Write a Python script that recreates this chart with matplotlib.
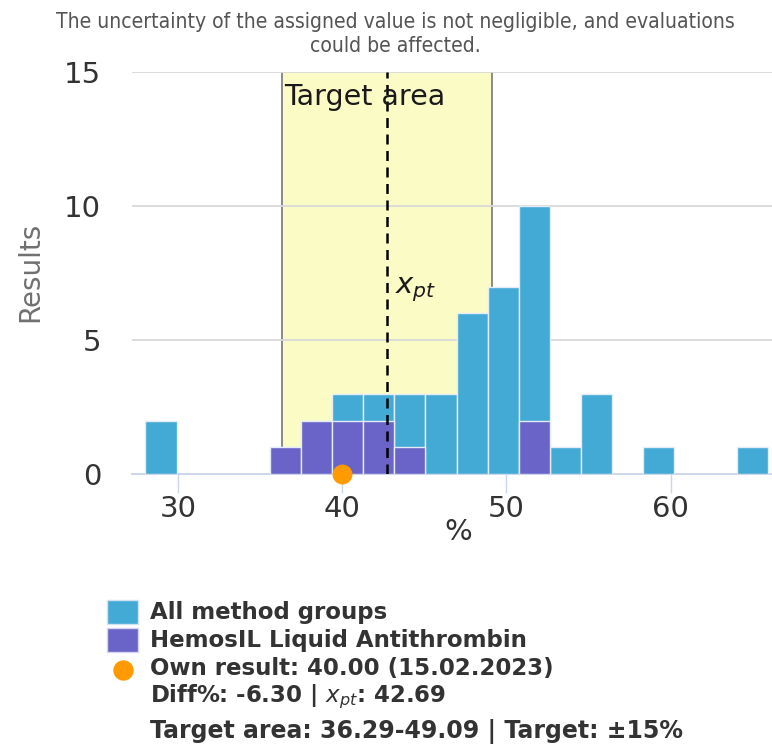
import matplotlib
matplotlib.use("Agg")
import matplotlib.pyplot as plt
from matplotlib.patches import Rectangle

# Histogram bins (left edges, plus the final right edge) and counts
bin_edges = [28.00, 29.90, 31.79, 33.69, 35.58, 37.48, 39.38, 41.27, 43.17, 45.06,
             46.96, 48.86, 50.75, 52.65, 54.54, 56.44, 58.34, 60.23, 62.13, 64.02, 65.92]
all_counts = [2, 0, 0, 0, 1, 2, 3, 3, 3, 3, 6, 7, 10, 1, 3, 0, 1, 0, 0, 1]
group_counts = [0, 0, 0, 0, 1, 2, 2, 2, 1, 0, 0, 0, 2, 0, 0, 0, 0, 0, 0, 0]

own_result = 40.00
x_pt = 42.69
target_low, target_high = 36.29, 49.09
diff_pct = -6.30
target_pct = 15

x_ticks = [30, 40, 50, 60]
y_ticks = [0, 5, 10, 15]

BLUE = "#43a9d5"
PURPLE = "#6a64c8"
ORANGE = "#ff9a00"

W, H = 772, 750
fig = plt.figure(figsize=(W / 100, H / 100), dpi=100)
fig.patch.set_facecolor("white")


def fx(x):
    return x / W


def fy(y):
    return 1 - y / H


ax_left, ax_right, ax_top, ax_bottom = 131.7, 772, 72, 474.3
ax = fig.add_axes([fx(ax_left), fy(ax_bottom), (ax_right - ax_left) / W, (ax_bottom - ax_top) / H])
ax.set_xlim(27.16, 66.18)
ax.set_ylim(0, 15)

# target band
ax.axvspan(target_low, target_high, ymin=0, ymax=1, facecolor="#fbfbc6", edgecolor="none", zorder=0.5)
for xv in (target_low, target_high):
    ax.axvline(xv, color="#8a8a8a", lw=1.4, zorder=0.8)

# horizontal grid
for yv in y_ticks[1:]:
    ax.axhline(yv, color="#d9d9d9", lw=1.3, zorder=1)

# histogram bars: all groups, then the method group overlaid
lefts = bin_edges[:-1]
widths = [b - a for a, b in zip(bin_edges[:-1], bin_edges[1:])]
for l, w, c in zip(lefts, widths, all_counts):
    if c > 0:
        ax.bar(l, c, width=w, align="edge", color=BLUE, edgecolor="#e4edf7", lw=1.0, zorder=2)
for l, w, c in zip(lefts, widths, group_counts):
    if c > 0:
        ax.bar(l, c, width=w, align="edge", color=PURPLE, edgecolor="#e4edf7", lw=1.0, zorder=2.1)

# assigned value
ax.axvline(x_pt, color="black", lw=1.8, ls=(0, (4, 2.6)), zorder=3)

ax.annotate("Target area", xy=(target_low, 15), xytext=(2.5, -33), textcoords="offset pixels",
            ha="left", va="baseline", fontsize=20.5, color="#1a1a1a", zorder=4)
ax.annotate(r"$x_{pt}$", xy=(x_pt, 6.76), xytext=(8, 0), textcoords="offset pixels",
            ha="left", va="baseline", fontsize=21, color="#1a1a1a", zorder=4)

# own result marker
ax.scatter([own_result], [0], s=205, color=ORANGE, zorder=5, clip_on=False, linewidths=0)

# axes styling
for s in ("top", "right", "left"):
    ax.spines[s].set_visible(False)
ax.spines["bottom"].set_color("#ccd6eb")
ax.spines["bottom"].set_linewidth(1.4)
ax.spines["bottom"].set_zorder(1.5)
ax.set_xticks(x_ticks)
ax.set_yticks(y_ticks)
ax.tick_params(axis="x", length=13.5, width=1.0, color="#ccd6eb", pad=1.5,
               labelsize=21, labelcolor="#333333")
ax.tick_params(axis="y", length=0, pad=22, labelsize=21, labelcolor="#333333")
ax.set_facecolor("white")

fig.text(fx(458), fy(532), "%", ha="center", va="center", fontsize=21, color="#333333")
fig.text(fx(30), fy(272), "Results", ha="center", va="center", rotation=90,
         fontsize=20, color="#707070")

# header note
note_kw = dict(ha="center", va="baseline", fontsize=15.1, color="#555555",
               family="DejaVu Sans", fontstretch="condensed")
fig.text(fx(395), fy(27.7), "The uncertainty of the assigned value is not negligible, and evaluations", **note_kw)
fig.text(fx(395), fy(52.5), "could be affected.", **note_kw)

# legend
fig.add_artist(Rectangle((fx(107), fy(624)), 31 / W, 24 / H, transform=fig.transFigure,
                         facecolor=BLUE, edgecolor="#cfe3f3", lw=1.0))
fig.add_artist(Rectangle((fx(107), fy(652)), 31 / W, 24 / H, transform=fig.transFigure,
                         facecolor=PURPLE, edgecolor="#d6d4f0", lw=1.0))
ax_leg = fig.add_axes([0, 0, 1, 1], facecolor="none")
ax_leg.set_xlim(0, W)
ax_leg.set_ylim(H, 0)
ax_leg.axis("off")
ax_leg.scatter([123], [670], s=215, color=ORANGE, linewidths=0)

leg_kw = dict(ha="left", va="baseline", fontsize=16.5, fontweight="bold", color="#333333")
fig.text(fx(150), fy(619), "All method groups", **leg_kw)
fig.text(fx(150), fy(646.7), "HemosIL Liquid Antithrombin", **leg_kw)
fig.text(fx(150), fy(675), f"Own result: {own_result:.2f} (15.02.2023)", **leg_kw)
fig.text(fx(150), fy(702.3), f"Diff%: {diff_pct:.2f} | $x_{{pt}}$: {x_pt:.2f}", **leg_kw)
fig.text(fx(150), fy(738), f"Target area: {target_low:.2f}-{target_high:.2f} | Target: ±{target_pct}%",
         **dict(leg_kw, fontsize=17.0))

fig.savefig("out.png", dpi=100, facecolor="white")
